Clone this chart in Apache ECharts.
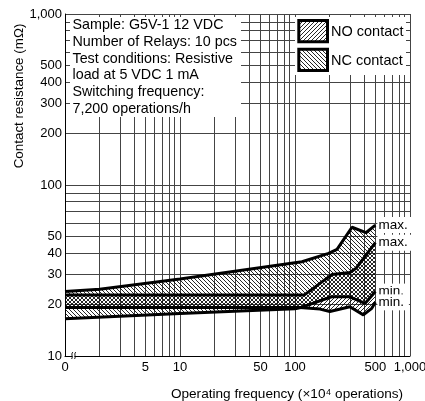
<!DOCTYPE html>
<html><head><meta charset="utf-8">
<script src="https://cdn.jsdelivr.net/npm/echarts@6/dist/echarts.min.js"></script>
<style>html,body{margin:0;padding:0;background:#fff}#c{width:425px;height:401px}</style>
</head><body><div id="c"></div>
<script>
// ---- data ----
const ncMaxX = [1, 2, 10, 115, 196, 232, 313, 414, 500];
const ncMaxY = [23.8, 24.6, 28.2, 35.6, 39.8, 42.0, 56.6, 52.6, 58.3];
const ncMinX = [1, 10, 100, 115, 208, 300, 406, 500];
const ncMinY = [16.5, 17.7, 18.9, 19.3, 22.2, 22.2, 20.3, 23.8];
const noMaxX = [1, 120, 210, 300, 340, 500];
const noMaxY = [22.7, 22.7, 30.0, 30.8, 32.6, 46.0];
const noMinX = [1, 110, 165, 201, 300, 393, 465, 500];
const noMinY = [19.2, 19.2, 18.8, 18.2, 19.4, 17.4, 19.0, 20.6];

const xGridValues = [1,2,3,4,5,6,7,8,9,10,20,30,40,50,60,70,80,90,100,200,300,400,500,600,700,800,900,1000];
const yGridValues = [10,20,30,40,50,60,70,80,90,100,200,300,400,500,600,700,800,900,1000];
const xLabelValues = [1, 5, 10, 50, 100, 500, 1000];
const xLabelTexts = ['0', '5', '10', '50', '100', '500', '1,000'];
const yLabelValues = [10, 20, 30, 40, 50, 100, 200, 300, 400, 500, 1000];
const yLabelTexts = ['10', '20', '30', '40', '50', '100', '200', '300', '400', '500', '1,000'];

const legendNames = ['NO contact', 'NC contact'];
const endLabelTexts = ['max.', 'max.', 'min.', 'min.'];
const noteLines = ['Sample: G5V-1 12 VDC', 'Number of Relays: 10 pcs', 'Test conditions: Resistive',
  'load at 5 VDC 1 mA', 'Switching frequency:', '7,200 operations/h'];
const xName = 'Operating frequency (\u00d710\u2074 operations)';
const yName = 'Contact resistance (m\u03a9)';

// ---- styles ----
const FONT = '"Liberation Sans", Arial, Helvetica, sans-serif';

function makePattern(dir) {
  const s = 4;
  const cv = document.createElement('canvas');
  cv.width = s; cv.height = s;
  const ctx = cv.getContext('2d');
  ctx.strokeStyle = '#000';
  ctx.lineWidth = 0.85;
  ctx.beginPath();
  if (dir === 'back') { // "\\\\"
    ctx.moveTo(-1, -1); ctx.lineTo(s + 1, s + 1);
    ctx.moveTo(-1, s - 1); ctx.lineTo(1, s + 1);
    ctx.moveTo(s - 1, -1); ctx.lineTo(s + 1, 1);
  } else { // "////"
    ctx.moveTo(-1, s + 1); ctx.lineTo(s + 1, -1);
    ctx.moveTo(-1, 1); ctx.lineTo(1, -1);
    ctx.moveTo(s - 1, s + 1); ctx.lineTo(s + 1, s - 1);
  }
  ctx.stroke();
  return { image: cv, repeat: 'repeat' };
}
const patNO = makePattern('fwd');
const patNC = makePattern('back');

function lookup(vals, texts) {
  return function (v) {
    for (let i = 0; i < vals.length; i++) if (Math.abs(vals[i] - v) < 1e-6 * vals[i]) return texts[i];
    return '';
  };
}

function band(name, maxX, maxY, minX, minY, pat) {
  return {
    type: 'custom', name: name, silent: true, z: 1,
    coordinateSystem: 'cartesian2d',
    data: [[maxX[0], maxY[0]]],
    renderItem: function (params, api) {
      const pts = [];
      for (let i = 0; i < maxX.length; i++) pts.push(api.coord([maxX[i], maxY[i]]));
      for (let i = minX.length - 1; i >= 0; i--) pts.push(api.coord([minX[i], minY[i]]));
      return { type: 'polygon', shape: { points: pts }, style: { fill: pat, stroke: null, lineWidth: 0 } };
    }
  };
}

function edge(xs, ys, label) {
  return {
    type: 'line', silent: true, z: 5, symbol: 'none',
    data: xs.map(function (x, i) { return [x, ys[i]]; }),
    lineStyle: { color: '#000', width: 3 },
    endLabel: { show: true, formatter: label, fontSize: 13.5, fontFamily: FONT, color: '#000',
      backgroundColor: '#fff', padding: [1, 5, 1, 1], distance: 2 }
  };
}

const chart = echarts.init(document.getElementById('c'), null, { renderer: 'canvas' });
const option = {
  animation: false,
  backgroundColor: '#fff',
  textStyle: { fontFamily: FONT },
  grid: { left: 65, right: 15, top: 14, bottom: 45, containLabel: false, outerBoundsMode: 'none' },
  xAxis: {
    type: 'log', logBase: 10, min: 1, max: 1000,
    name: xName, nameLocation: 'middle', nameGap: 31, nameMoveOverlap: false,
    nameTextStyle: { fontSize: 13.6, fontFamily: FONT, color: '#000', padding: [0, 0, 0, 99] },
    axisLine: { show: true, lineStyle: { color: '#000', width: 1 } },
    axisTick: { show: false, customValues: xGridValues },
    axisLabel: { customValues: xLabelValues, formatter: lookup(xLabelValues, xLabelTexts),
      fontSize: 13, fontFamily: FONT, color: '#000', margin: 5 },
    splitLine: { show: true, lineStyle: { color: '#444', width: 1 } },
    minorTick: { show: false }, minorSplitLine: { show: false }
  },
  yAxis: {
    type: 'log', logBase: 10, min: 10, max: 1000,
    name: yName, nameLocation: 'middle', nameGap: 39, nameMoveOverlap: false,
    nameTextStyle: { fontSize: 13.4, fontFamily: FONT, color: '#000', padding: [0, 0, 0, 178] },
    axisLine: { show: true, lineStyle: { color: '#000', width: 1 } },
    axisTick: { show: false, customValues: yGridValues },
    axisLabel: { customValues: yLabelValues, formatter: lookup(yLabelValues, yLabelTexts),
      fontSize: 13, fontFamily: FONT, color: '#000', margin: 3 },
    splitLine: { show: true, lineStyle: { color: '#444', width: 1 } },
    minorTick: { show: false }, minorSplitLine: { show: false }
  },
  series: [
    band(legendNames[1], ncMaxX, ncMaxY, ncMinX, ncMinY, patNC),
    band(legendNames[0], noMaxX, noMaxY, noMinX, noMinY, patNO),
    edge(ncMaxX, ncMaxY, endLabelTexts[0]),
    edge(noMaxX, noMaxY, endLabelTexts[1]),
    edge(ncMinX, ncMinY, endLabelTexts[2]),
    edge(noMinX, noMinY, endLabelTexts[3])
  ],
  graphic: [
    { type: 'rect', z: 100, silent: true, shape: { x: 70, y: 17, width: 171, height: 100 }, style: { fill: '#fff' } },
    { type: 'text', z: 101, silent: true, style: { x: 72.5, y: 17, text: noteLines.join('\n'), fontSize: 14.3,
      fontFamily: FONT, lineHeight: 16.7, fill: '#000', verticalAlign: 'top' } },
    { type: 'rect', z: 100, silent: true, shape: { x: 295, y: 17, width: 111, height: 58 }, style: { fill: '#fff' } },
    { type: 'rect', z: 101, silent: true, shape: { x: 298.8, y: 20.5, width: 28.7, height: 21.3 },
      style: { fill: patNO, stroke: '#000', lineWidth: 3 } },
    { type: 'rect', z: 101, silent: true, shape: { x: 298.8, y: 49.3, width: 28.7, height: 21.3 },
      style: { fill: patNC, stroke: '#000', lineWidth: 3 } },
    { type: 'text', z: 101, silent: true, style: { x: 331, y: 32, text: legendNames[0], fontSize: 14.5,
      fontFamily: FONT, fill: '#000', verticalAlign: 'middle' } },
    { type: 'text', z: 101, silent: true, style: { x: 331, y: 60.5, text: legendNames[1], fontSize: 14.5,
      fontFamily: FONT, fill: '#000', verticalAlign: 'middle' } }
  ]
};
chart.setOption(option);

// axis-break mark near the "0" end of the x axis
const p1 = chart.convertToPixel({ gridIndex: 0 }, [1.15, 10]);
const p2 = chart.convertToPixel({ gridIndex: 0 }, [1.22, 10]);
function squiggle(p) {
  const x = p[0], y = p[1];
  return { type: 'bezierCurve', z: 101, silent: true,
    shape: { x1: x + 1, y1: y - 4, cpx1: x - 1.5, cpy1: y - 2, cpx2: x + 1.5, cpy2: y + 1, x2: x - 0.5, y2: y + 3 },
    style: { fill: null, stroke: '#000', lineWidth: 1 } };
}
chart.setOption({ graphic: option.graphic.concat([
  { type: 'rect', z: 100, silent: true, shape: { x: p1[0] + 0.5, y: p1[1] - 1.5, width: p2[0] - p1[0] - 1, height: 3 }, style: { fill: '#fff' } },
  squiggle(p1), squiggle(p2)
]) });
</script></body></html>
